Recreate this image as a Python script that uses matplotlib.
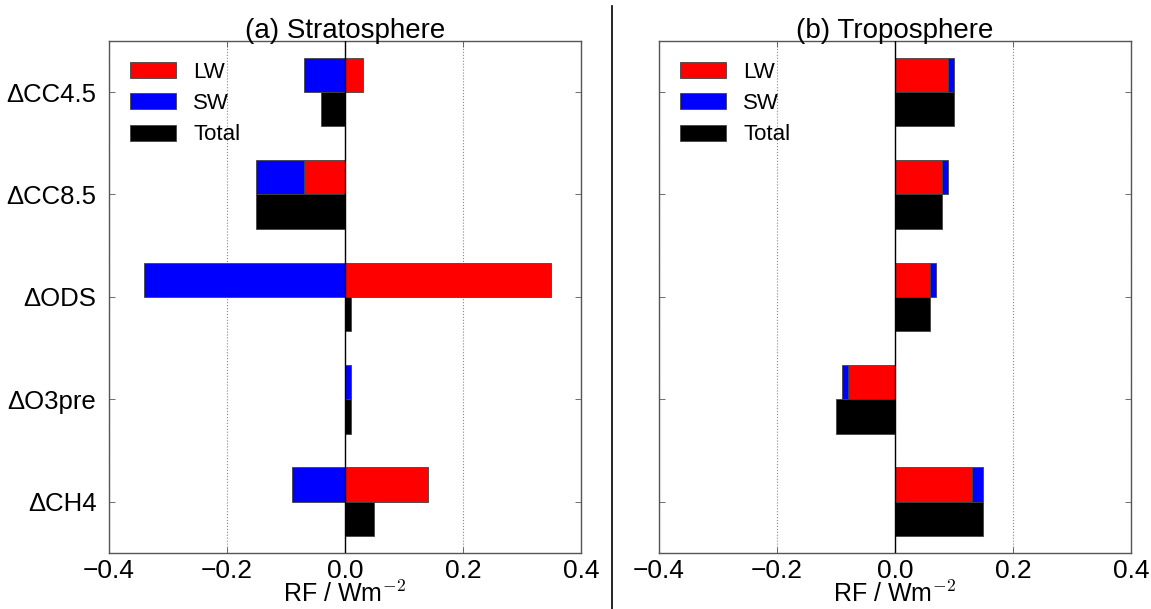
import matplotlib
matplotlib.use("Agg")
import matplotlib.pyplot as plt
from matplotlib.lines import Line2D
import numpy as np

plt.rcParams["font.family"] = ["Liberation Sans", "DejaVu Sans"]
plt.rcParams["mathtext.fontset"] = "cm"

# ── Data (RF in W m^-2) ──────────────────────────────────────────────────────

categories = ["\u0394CC4.5", "\u0394CC8.5", "\u0394ODS", "\u0394O3pre", "\u0394CH4"]

strat_lw = [0.03, -0.07, 0.35, 0.00, 0.14]
strat_sw = [-0.07, -0.08, -0.34, 0.01, -0.09]
strat_total = [-0.04, -0.15, 0.01, 0.01, 0.05]

trop_lw = [0.09, 0.08, 0.06, -0.08, 0.13]
trop_sw = [0.01, 0.01, 0.01, -0.01, 0.02]
trop_total = [0.10, 0.08, 0.06, -0.10, 0.15]

panel_titles = ["(a) Stratosphere", "(b) Troposphere"]
xticks = [-0.4, -0.2, 0.0, 0.2, 0.4]

# ── Plotting ─────────────────────────────────────────────────────────────────

BAR_H = 0.335
EDGE = "#444444"
SPINE = "#555555"

fig = plt.figure(figsize=(11.51, 6.09), dpi=100)
ax_l = fig.add_axes([0.0947, 0.092, 0.410, 0.841])
ax_r = fig.add_axes([0.5725, 0.092, 0.410, 0.841])


def draw_panel(ax, lw, sw, total, title, show_labels):
    lw = np.array(lw)
    sw = np.array(sw)
    total = np.array(total)
    y = np.arange(len(categories))
    # SW stacked onto LW when both push the same way
    sw_left = np.where(np.sign(sw) == np.sign(lw), lw, 0.0)

    ax.barh(y - BAR_H / 2, lw, height=BAR_H, color="#ff0000",
            edgecolor=EDGE, linewidth=0.6, label="LW", zorder=3)
    ax.barh(y - BAR_H / 2, sw, left=sw_left, height=BAR_H, color="#0000ff",
            edgecolor=EDGE, linewidth=0.6, label="SW", zorder=3)
    ax.barh(y + BAR_H / 2, total, height=BAR_H, color="black",
            edgecolor=EDGE, linewidth=0.6, label="Total", zorder=3)

    ax.axvline(0, color="black", linewidth=1.0, zorder=4)
    ax.set_xlim(-0.4, 0.4)
    ax.set_ylim(len(categories) - 0.5, -0.5)
    ax.set_xticks(xticks)
    ax.set_xticklabels([f"{t:.1f}".replace("-", "\u2212") for t in xticks])
    ax.set_yticks(y)
    if show_labels:
        ax.set_yticklabels(categories)
    else:
        ax.set_yticklabels([])

    ax.grid(axis="x", color="#888888", linestyle=":", linewidth=0.8, zorder=0)
    ax.tick_params(direction="in", length=4, width=0.6, color=SPINE,
                   top=True, right=True, labelsize=18, pad=4)
    ax.tick_params(axis="x", labelsize=19)
    ax.tick_params(axis="y", labelsize=18.5, pad=9)
    for spine in ax.spines.values():
        spine.set_edgecolor(SPINE)
        spine.set_linewidth(1.0)

    ax.set_xlabel("RF / Wm$^{-2}$", fontsize=18, labelpad=-1)
    ax.set_title(title, fontsize=20, pad=2)
    ax.legend(loc="upper left", frameon=False, fontsize=16,
              handlelength=2.07, handleheight=0.72, handletextpad=0.77,
              labelspacing=0.46, borderaxespad=0.55)


draw_panel(ax_l, strat_lw, strat_sw, strat_total, panel_titles[0], True)
draw_panel(ax_r, trop_lw, trop_sw, trop_total, panel_titles[1], False)

# separator between the two panels
fig.add_artist(Line2D([0.532, 0.532], [0.0, 0.99], color="black",
                      linewidth=1.2, transform=fig.transFigure))

fig.savefig("out.png", dpi=100, facecolor="white")
